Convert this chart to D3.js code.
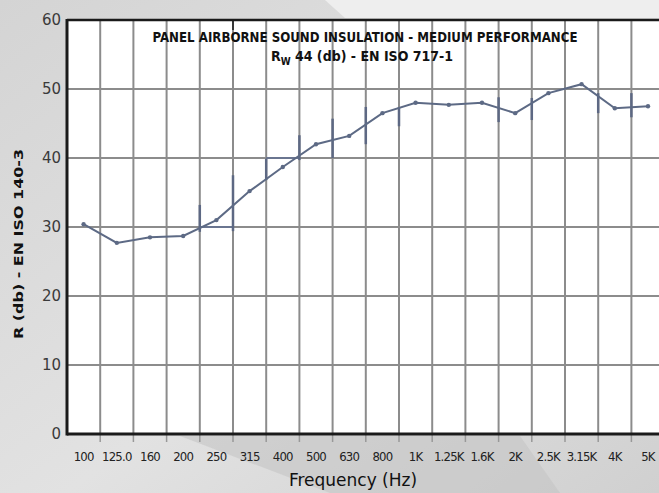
<!DOCTYPE html>
<head>
<meta charset="UTF-8">
<script src="https://d3js.org/d3.v7.min.js"></script>
<style>
  body { margin: 0; }
  text { font-family: "DejaVu Sans Condensed", "DejaVu Sans", sans-serif; }
</style>
</head>
<body>
<div id="my_dataviz"></div>
<script>

// frequency bands (x categories)
var freqs = ["100","125.0","160","200","250","315","400","500","630","800",
             "1K","1.25K","1.6K","2K","2.5K","3.15K","4K","5K"];
// measured R values (dB) per band
var rValues = [30.4, 27.7, 28.5, 28.7, 31.0, 35.2, 38.7, 42.0, 43.2, 46.5,
               48.0, 47.7, 48.0, 46.5, 49.4, 50.7, 47.2, 47.5];
// vertical marks drawn on band boundaries: boundary index, low, high
var markIdx  = [4, 5, 6, 7, 8, 9, 10, 13, 14, 16, 17];
var markLow  = [29.3, 29.4, 36.8, 39.7, 40.0, 42.0, 44.6, 45.2, 45.5, 46.5, 45.9];
var markHigh = [33.2, 37.5, 39.9, 43.3, 45.7, 47.4, 47.4, 48.8, 48.7, 49.4, 49.4];
// horizontal step marks: from boundary, to boundary, level
var stepFrom = [4, 6];
var stepTo   = [5, 7];
var stepLvl  = [30, 40];
var yTicks = [0, 10, 20, 30, 40, 50, 60];

var W = 659, H = 493;
var margin = {top: 20, left: 67, bottom: 59};
var step = 33.2;

var svg = d3.select("#my_dataviz")
  .append("svg")
    .attr("width", W)
    .attr("height", H);

// background shading
var defs = svg.append("defs");
var grad = defs.append("linearGradient")
    .attr("id", "bg").attr("x1", "0").attr("y1", "0").attr("x2", "1").attr("y2", "1");
grad.append("stop").attr("offset", "0%").attr("stop-color", "#d4d4d4");
grad.append("stop").attr("offset", "55%").attr("stop-color", "#e2e2e2");
grad.append("stop").attr("offset", "100%").attr("stop-color", "#d0d0d0");
svg.append("rect").attr("width", W).attr("height", H).style("fill", "url(#bg)");
svg.append("path")
    .attr("d", "M325,0 L659,0 L659,18 L345,18 Z")
    .style("fill", "#eeeeee");
svg.append("path")
    .attr("d", "M180,436 L520,436 L560,493 L330,493 Z")
    .style("fill", "#c4c4c4").style("opacity", 0.6);

var x = d3.scaleBand()
  .domain(freqs)
  .range([margin.left, margin.left + step * freqs.length])
  .padding(0);
var y = d3.scaleLinear()
  .domain([0, 60])
  .range([H - margin.bottom, margin.top]);

var x0 = x.range()[0], x1 = x.range()[1];
function bx(i) { return x0 + i * x.step(); }

// plot background
svg.append("rect")
  .attr("x", x0).attr("y", y(60))
  .attr("width", x1 - x0).attr("height", y(0) - y(60))
  .style("fill", "white");

// horizontal grid
svg.append("g")
  .selectAll("line")
  .data(yTicks.filter(function(d){ return d > 0 && d < 60; }))
  .enter().append("line")
    .attr("x1", x0).attr("x2", x1)
    .attr("y1", function(d){ return y(d); })
    .attr("y2", function(d){ return y(d); })
    .style("stroke", "#8c8c8c").style("stroke-width", 2);

// vertical grid on band boundaries
var bounds = d3.range(1, freqs.length + 1);
svg.append("g")
  .selectAll("line")
  .data(bounds)
  .enter().append("line")
    .attr("x1", bx).attr("x2", bx)
    .attr("y1", y(60)).attr("y2", y(0))
    .style("stroke", "#8c8c8c").style("stroke-width", 2);

// little ticks under the axis
svg.append("g")
  .selectAll("line")
  .data(bounds)
  .enter().append("line")
    .attr("x1", bx).attr("x2", bx)
    .attr("y1", y(0)).attr("y2", y(0) + 8)
    .style("stroke", "#999").style("stroke-width", 1.5);

// axis frame
svg.append("line")
  .attr("x1", x0).attr("x2", x1).attr("y1", y(0)).attr("y2", y(0))
  .style("stroke", "#1a1a1a").style("stroke-width", 3);
svg.append("line")
  .attr("x1", x0).attr("x2", x1).attr("y1", y(60)).attr("y2", y(60))
  .style("stroke", "#1a1a1a").style("stroke-width", 2.5);
svg.append("line")
  .attr("x1", x0).attr("x2", x0).attr("y1", y(60) - 1).attr("y2", y(0) + 1.5)
  .style("stroke", "#1a1a1a").style("stroke-width", 3);
svg.append("line")
  .attr("x1", bx(5)).attr("x2", bx(5)).attr("y1", y(60)).attr("y2", y(60) + 10)
  .style("stroke", "#1a1a1a").style("stroke-width", 1.5);

// y tick labels
svg.append("g")
  .selectAll("text")
  .data(yTicks)
  .enter().append("text")
    .attr("x", 61)
    .attr("y", function(d){ return y(d) + 5; })
    .attr("text-anchor", "end")
    .style("font-family", "'DejaVu Sans'")
    .style("font-size", "15px")
    .style("fill", "#3a3a3a")
    .text(function(d){ return d; });

// x tick labels
svg.append("g")
  .selectAll("text")
  .data(freqs)
  .enter().append("text")
    .attr("x", function(d){ return x(d) + x.bandwidth() / 2; })
    .attr("y", 461)
    .attr("text-anchor", "middle")
    .style("font-size", "13px")
    .style("fill", "#222")
    .style("letter-spacing", "-0.8px")
    .text(function(d){ return d; });

// step marks
var steps = d3.range(stepFrom.length);
svg.append("g")
  .selectAll("line")
  .data(steps)
  .enter().append("line")
    .attr("x1", function(i){ return bx(stepFrom[i]); })
    .attr("x2", function(i){ return bx(stepTo[i]); })
    .attr("y1", function(i){ return y(stepLvl[i]); })
    .attr("y2", function(i){ return y(stepLvl[i]); })
    .style("stroke", "#6a7590").style("stroke-width", 2);

// vertical marks
svg.append("g")
  .selectAll("line")
  .data(d3.range(markIdx.length))
  .enter().append("line")
    .attr("x1", function(i){ return bx(markIdx[i]); })
    .attr("x2", function(i){ return bx(markIdx[i]); })
    .attr("y1", function(i){ return y(markLow[i]); })
    .attr("y2", function(i){ return y(markHigh[i]); })
    .style("stroke", "#5d6883").style("stroke-width", 2.5);

// measured curve
var pts = freqs.map(function(f, i){ return {f: f, v: rValues[i]}; });
var line = d3.line()
  .x(function(d){ return x(d.f) + x.bandwidth() / 2; })
  .y(function(d){ return y(d.v); });
svg.append("path")
  .datum(pts)
  .attr("d", line)
  .style("fill", "none")
  .style("stroke", "#5d6a85")
  .style("stroke-width", 2);
svg.append("g")
  .selectAll("circle")
  .data(pts)
  .enter().append("circle")
    .attr("cx", function(d){ return x(d.f) + x.bandwidth() / 2; })
    .attr("cy", function(d){ return y(d.v); })
    .attr("r", 2.2)
    .style("fill", "#5d6a85");

// title
svg.append("text")
  .attr("x", 365).attr("y", 42)
  .attr("text-anchor", "middle")
  .attr("textLength", 425).attr("lengthAdjust", "spacingAndGlyphs")
  .style("font-size", "14px").style("font-weight", "bold")
  .style("fill", "#111")
  .text("PANEL AIRBORNE SOUND INSULATION - MEDIUM PERFORMANCE");

var sub = svg.append("text")
  .attr("x", 362).attr("y", 61)
  .attr("text-anchor", "middle")
  .style("font-size", "14px").style("font-weight", "bold")
  .style("fill", "#111");
sub.append("tspan").text("R");
sub.append("tspan").attr("dy", 4).style("font-size", "10px").text("W");
sub.append("tspan").attr("dy", -4).text(" 44 (db) - EN ISO 717-1");

// axis titles
svg.append("text")
  .attr("transform", "translate(23," + 244 + ") rotate(-90)")
  .attr("text-anchor", "middle")
  .attr("textLength", 190).attr("lengthAdjust", "spacingAndGlyphs")
  .style("font-family", "'DejaVu Sans'")
  .style("font-size", "13px").style("font-weight", "bold")
  .style("fill", "#111")
  .text("R (db) - EN ISO 140-3");

svg.append("text")
  .attr("x", 353).attr("y", 486)
  .attr("text-anchor", "middle")
  .style("font-family", "'DejaVu Sans'")
  .style("font-size", "17px")
  .style("fill", "#111")
  .text("Frequency (Hz)");

</script>
</body>
